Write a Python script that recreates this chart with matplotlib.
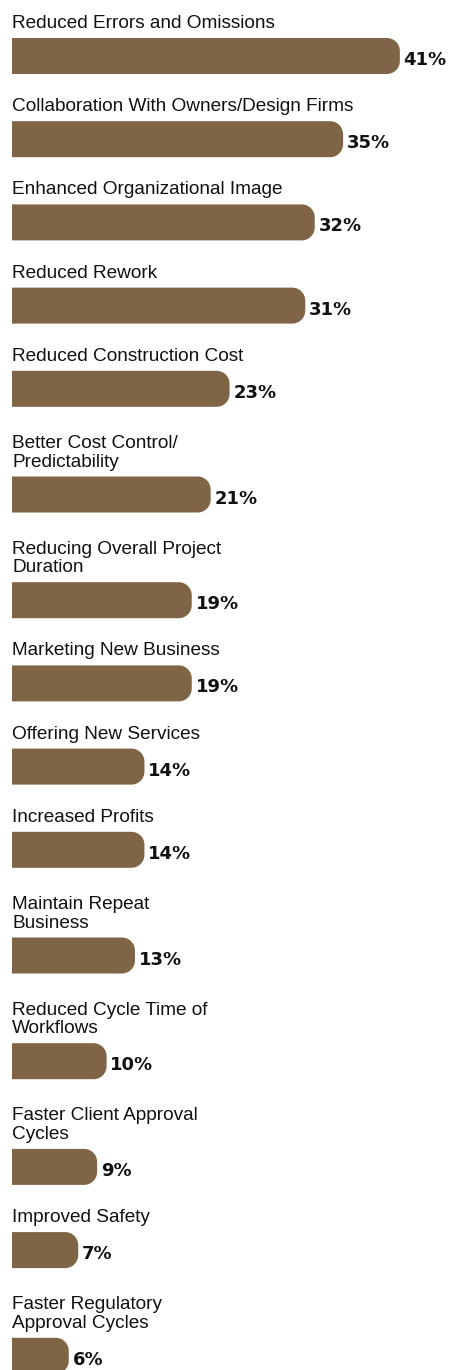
import matplotlib
matplotlib.use("Agg")
import matplotlib.pyplot as plt
from matplotlib.patches import PathPatch
from matplotlib.path import Path

# datos
categorias = [
    "Reduced Errors and Omissions",
    "Collaboration With Owners/Design Firms",
    "Enhanced Organizational Image",
    "Reduced Rework",
    "Reduced Construction Cost",
    "Better Cost Control/\nPredictability",
    "Reducing Overall Project\nDuration",
    "Marketing New Business",
    "Offering New Services",
    "Increased Profits",
    "Maintain Repeat\nBusiness",
    "Reduced Cycle Time of\nWorkflows",
    "Faster Client Approval\nCycles",
    "Improved Safety",
    "Faster Regulatory\nApproval Cycles",
]
valores = [41, 35, 32, 31, 23, 21, 19, 19, 14, 14, 13, 10, 9, 7, 6]
etiquetas = [f"{v}%" for v in valores]

color_barra = "#7f6446"
ancho, alto = 460, 1370
px_x = 9.46          # pixeles por punto porcentual
x0_px = 12           # margen izquierdo
alto_barra = 36
radio = 13


def barra_redondeada(v, yc, h, rx, ry):
    # barra recta a la izquierda y esquinas redondeadas a la derecha
    k = 0.5523
    t, b = yc - h / 2, yc + h / 2
    verts = [
        (0, t), (v - rx, t),
        (v - rx + k * rx, t), (v, t + ry - k * ry), (v, t + ry),
        (v, b - ry),
        (v, b - ry + k * ry), (v - rx + k * rx, b), (v - rx, b),
        (0, b), (0, t),
    ]
    codes = [Path.MOVETO, Path.LINETO,
             Path.CURVE4, Path.CURVE4, Path.CURVE4,
             Path.LINETO,
             Path.CURVE4, Path.CURVE4, Path.CURVE4,
             Path.LINETO, Path.CLOSEPOLY]
    return Path(verts, codes)


fig = plt.figure(figsize=(ancho / 100, alto / 100), dpi=100)
ax = fig.add_axes([0, 0, 1, 1])
ax.set_xlim(-x0_px / px_x, (ancho - x0_px) / px_x)
ax.set_ylim(alto, 0)  # eje y en pixeles
ax.axis("off")

# posicion vertical de cada fila segun lineas de la etiqueta
pos_y = []
y = 56
for i, cat in enumerate(categorias):
    if i > 0:
        y += 83.2 + 22.5 * cat.count("\n")
    pos_y.append(y)

rx = radio / px_x
for cat, v, lab, yc in zip(categorias, valores, etiquetas, pos_y):
    ax.add_patch(PathPatch(barra_redondeada(v, yc, alto_barra, rx, radio),
                           facecolor=color_barra, edgecolor="none"))
    ax.text(0, yc - alto_barra / 2 - 6, cat, ha="left", va="bottom",
            fontsize=13.7, color="#111111", linespacing=1.12,
            family=["Liberation Sans", "DejaVu Sans"])
    ax.text(v + 0.4, yc + 9, lab, ha="left", va="baseline",
            fontsize=13, fontweight="heavy", color="#111111",
            family=["DejaVu Sans"])

fig.savefig("out.png", dpi=100)
